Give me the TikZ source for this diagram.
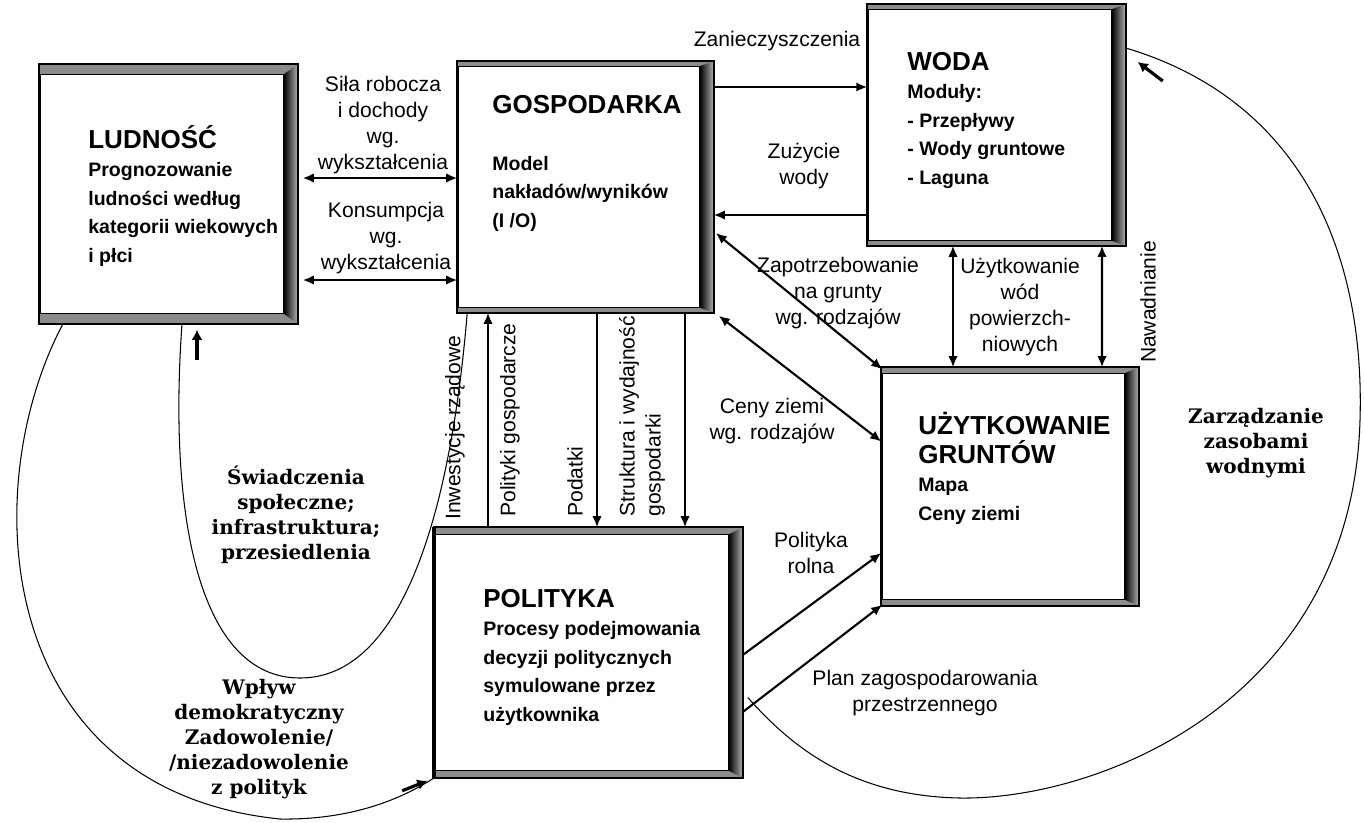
\documentclass[tikz,border=0pt]{standalone}
\usepackage{fontspec}
\usepackage{tikz}
\usetikzlibrary{arrows.meta,positioning,calc}
\setmainfont{Liberation Sans}
\newfontfamily\slabfont{DejaVu Serif}
\newcommand{\titlef}{\fontsize{14.8}{16}\selectfont\bfseries}
\newcommand{\boxf}{\fontsize{11.1}{16.2}\selectfont\bfseries}
\newcommand{\lblf}{\fontsize{12}{14.8}\selectfont}
\newcommand{\slabf}{\slabfont\fontsize{11.4}{14.2}\selectfont\bfseries}
\tikzset{
  panel/.style={draw=black, line width=0.9pt, fill=white, inner sep=0pt},
  paneltext/.style={anchor=base west, align=left, inner sep=0pt, font=\boxf},
  band/.style={fill=black!45},
  link/.style={-{Latex[length=2.2mm, width=1.9mm]}, line width=1.2pt},
  biglink/.style={{Latex[length=2.2mm, width=1.9mm]}-{Latex[length=2.2mm, width=1.9mm]}, line width=1.2pt},
  curveline/.style={line width=0.6pt},
  hint/.style={-{Latex[length=2mm, width=2.2mm]}, line width=1.8pt},
  lbl/.style={align=center, font=\lblf, inner sep=0pt},
  vlbl/.style={rotate=90, anchor=west, align=left, font=\lblf, inner sep=0pt},
  slab/.style={align=center, font=\slabf, inner sep=0pt}
}
\newcommand{\panelframe}[2]{%
  \fill[band] (#1.north west) rectangle ($(#1.north east)+(0,#2)$);
  \fill[band] ($(#1.south west)+(0,-#2)$) rectangle (#1.south east);
  \shade[left color=black, right color=black!30]
    ($(#1.north east)+(-14,#2)$) -- (#1.north east) -- (#1.south east) -- ($(#1.south east)+(-14,-#2)$) -- cycle;
  \draw[line width=0.6pt] ($(#1.north west)+(0,#2)$) -- ($(#1.north east)+(-14,#2)$) -- ($(#1.south east)+(-14,-#2)$) -- ($(#1.south west)+(0,-#2)$);
  \draw[line width=0.9pt] (#1.north west) rectangle (#1.south east);
}
\begin{document}
\begin{tikzpicture}[x=0.02cm, y=-0.02cm]
  \useasboundingbox (0,0) rectangle (1364,822);

  \node[panel, minimum width=5.14cm, minimum height=5.16cm] (lud) at (168.5,194) {};
  \node[panel, minimum width=5.10cm, minimum height=5.00cm] (gosp) at (585.5,187) {};
  \node[panel, minimum width=5.14cm, minimum height=4.80cm] (woda) at (996.5,125) {};
  \node[panel, minimum width=5.12cm, minimum height=4.74cm] (uzyt) at (1010,486.5) {};
  \node[panel, minimum width=6.14cm, minimum height=4.98cm] (pol) at (588.5,652.5) {};
  \panelframe{lud}{10}
  \panelframe{gosp}{5}
  \panelframe{woda}{5}
  \panelframe{uzyt}{6}
  \panelframe{pol}{7}
  \draw[line width=2.4pt] (pol.north west) -- (pol.south west);

  \node[paneltext] (ludtxt) at (88,262) {{\titlef LUDNOŚĆ}\\Prognozowanie\\ludności według\\kategorii wiekowych\\i  płci};
  \node[paneltext] (gosptxt) at (492,227) {{\titlef GOSPODARKA}\\[16pt]Model\\nakładów/wyników\\(I /O)};
  \node[paneltext] (wodatxt) at (907,184) {{\titlef WODA}\\Moduły:\\- Przepływy\\- Wody gruntowe\\- Laguna};
  \node[paneltext] (uzyttxt) at (918,520) {{\titlef UŻYTKOWANIE}\\{\titlef GRUNTÓW}\\Mapa\\Ceny  ziemi};
  \node[paneltext] (poltxt) at (483,721) {{\titlef POLITYKA}\\Procesy podejmowania\\decyzji  politycznych\\symulowane  przez\\użytkownika};

  \node[lbl] (silalbl) at (383,125) {Siła  robocza\\i dochody\\wg.\\wykształcenia};
  \node[lbl] (konslbl) at (386,238) {Konsumpcja\\wg.\\wykształcenia};
  \node[lbl] (zanlbl) at (777,41) {Zanieczyszczenia};
  \node[lbl] (zuzlbl) at (804,166) {Zużycie\\wody};
  \node[lbl] (zaplbl) at (838,293) {Zapotrzebowanie\\na grunty\\wg.  rodzajów};
  \node[lbl] (cenlbl) at (772,421) {Ceny  ziemi\\wg. rodzajów};
  \node[lbl] (uzwlbl) at (1020,307) {Użytkowanie\\wód\\powierzch-\\niowych};
  \node[vlbl, anchor=center] (nawlbl) at (1148,302) {Nawadnianie};
  \node[vlbl] (inwlbl) at (455,520) {Inwestycje rządowe};
  \node[vlbl] (polglbl) at (510,517) {Polityki gospodarcze};
  \node[vlbl] (podlbl) at (575,517) {Podatki};
  \node[vlbl] (strlbl) at (642,517) {Struktura i wydajność\\gospodarki};
  \node[lbl] (rolnalbl) at (811,553) {Polityka\\rolna};
  \node[lbl] (planlbl) at (925,693) {Plan zagospodarowania\\przestrzennego};
  \node[slab] (swilbl) at (296,515) {Świadczenia\\społeczne;\\infrastruktura;\\przesiedlenia};
  \node[slab] (wplbl) at (259,739) {Wpływ\\demokratyczny\\Zadowolenie/\\/niezadowolenie\\z polityk};
  \node[slab] (zarlbl) at (1256,443) {Zarządzanie\\zasobami\\wodnymi};

  \draw[biglink] ($(lud.east)+(5,-16)$) -- ($(gosp.west)+(0,-9)$);
  \draw[biglink] ($(lud.east)+(5,86)$) -- ($(gosp.west)+(0,93)$);
  \draw[link] ($(gosp.east)+(0,-100)$) -- ($(woda.west)+(0,-38)$);
  \draw[link] ($(woda.west)+(0,90)$) -- ($(gosp.east)+(0,28)$);
  \draw[biglink] ($(gosp.east)+(2,46)$) -- ($(uzyt.north west)+(1,2)$);
  \draw[biglink] ($(gosp.south east)+(5,3)$) -- ($(uzyt.west)+(0,-45)$);
  \draw[biglink] ($(woda.south)+(-43.5,0)$) -- ($(uzyt.north)+(-57,0)$);
  \draw[biglink] ($(woda.south)+(105.5,0)$) -- ($(uzyt.north)+(92,0)$);
  \draw[link] ($(pol.north)+(-100.5,0)$) -- ($(gosp.south)+(-97.5,0)$);
  \draw[link] ($(gosp.south)+(11.5,0)$) -- ($(pol.north)+(8.5,0)$);
  \draw[link] ($(gosp.south)+(99.5,0)$) -- ($(pol.north)+(96.5,0)$);
  \draw[link] ($(pol.east)+(0,2.5)$) -- ($(uzyt.west)+(0,66.5)$);
  \draw[link] ($(pol.east)+(0,59.5)$) -- ($(uzyt.south west)+(1,-1)$);

  \draw[curveline] ($(lud.south)+(13.5,0)$) .. controls (168,520) and (200,678) .. (300,678)
    .. controls (400,678) and (450,520) .. ($(gosp.south west)+(10,0)$);
  \draw[curveline] ($(lud.south)+(-105.5,0)$) .. controls (-25,490) and (-5,790) .. (280,819)
    .. controls (350,820) and (400,800) .. (pol.south west);
  \draw[curveline] ($(woda.east)+(0,-77)$) .. controls (1300,100) and (1365,250) .. (1360,420)
    .. controls (1352,700) and (1100,800) .. (960,798) .. controls (850,796) and (790,745) .. ($(pol.east)+(5,45)$);

  \draw[hint] ($(lud.south)+(28.5,36)$) -- ($(lud.south)+(28.5,6)$);
  \draw[hint] ($(pol.south west)+(-32,13)$) -- ($(pol.south west)+(-7,3)$);
  \draw[hint] ($(woda.east)+(37,-44)$) -- ($(woda.east)+(12,-63)$);
\end{tikzpicture}
\end{document}
